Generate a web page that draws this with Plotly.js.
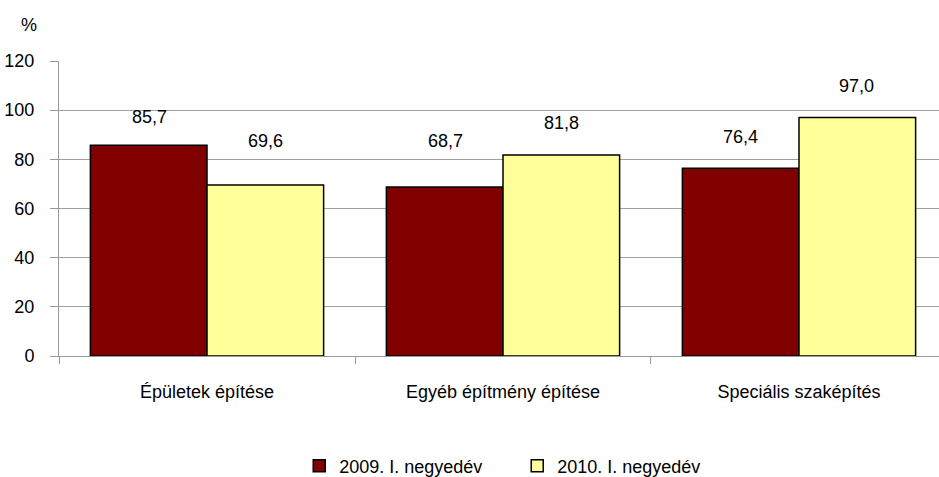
<!DOCTYPE html>
<html>
<head>
<meta charset="utf-8">
<script src="https://cdn.plot.ly/plotly-3.0.1.min.js"></script>
<style>html,body{margin:0;padding:0;background:#fff;}#chart{width:939px;height:477px;}</style>
</head>
<body>
<div id="chart"></div>
<script>
const categories = ["Épületek építése", "Egyéb építmény építése", "Speciális szaképítés"];
const series2009 = [85.7, 68.7, 76.4];
const series2010 = [69.6, 81.8, 97.0];
const seriesNames = ["2009. I. negyedév", "2010. I. negyedév"];
const yTicks = [0, 20, 40, 60, 80, 100, 120];

// label placement (pixel offsets above each bar top, as in the original)
const labelLift = [[28, 46, 31], [44, 32, 32]];

const font = {family: "Liberation Sans, Arial, sans-serif", size: 18, color: "#000"};

const traces = [
  {type: "bar", x: categories, y: series2009, name: seriesNames[0],
   marker: {color: "#800000", line: {color: "#000", width: 1.5}}},
  {type: "bar", x: categories, y: series2010, name: seriesNames[1],
   marker: {color: "#FFFF99", line: {color: "#000", width: 1.5}}}
];

const fmt = v => v.toFixed(1).replace(".", ",");
const annotations = [];
[series2009, series2010].forEach((s, si) => {
  s.forEach((v, i) => {
    annotations.push({x: categories[i], y: v, text: fmt(v), showarrow: false,
      xref: "x", yref: "y", yanchor: "middle", yshift: labelLift[si][i], xshift: si === 0 ? -58 : 58,
      font: font});
  });
});
annotations.push({xref: "paper", yref: "paper", x: -0.045, y: 1.08, xanchor: "left", yanchor: "bottom",
  text: "%", showarrow: false, font: font});

const layout = {
  width: 939, height: 477,
  margin: {l: 59, r: 0, t: 61, b: 121},
  paper_bgcolor: "#fff", plot_bgcolor: "#fff",
  barmode: "group", bargap: 0.212, bargroupgap: 0,
  separators: ", ",
  font: font,
  showlegend: true,
  legend: {orientation: "h", x: 0.273, xanchor: "left", yref: "container", y: 0.023, yanchor: "middle",
    font: font, itemwidth: 30, tracegroupgap: 0, entrywidth: 173},
  xaxis: {type: "category", range: [-0.5, 2.473], tickson: "boundaries", ticks: "outside", ticklen: 7,
    tickcolor: "#999", showline: true, linecolor: "#999", linewidth: 1,
    showgrid: false, tickfont: font, automargin: false, ticklabelstandoff: 19},
  yaxis: {range: [0, 120], tickvals: yTicks, ticks: "outside", ticklen: 8, tickcolor: "#999",
    showline: true, linecolor: "#999", linewidth: 1, gridcolor: "#a0a0a0", gridwidth: 1,
    zeroline: false, tickfont: font, automargin: false, ticklabelstandoff: 12},
  annotations: annotations
};

Plotly.newPlot("chart", traces, layout, {displayModeBar: false, staticPlot: true});
</script>
</body>
</html>
